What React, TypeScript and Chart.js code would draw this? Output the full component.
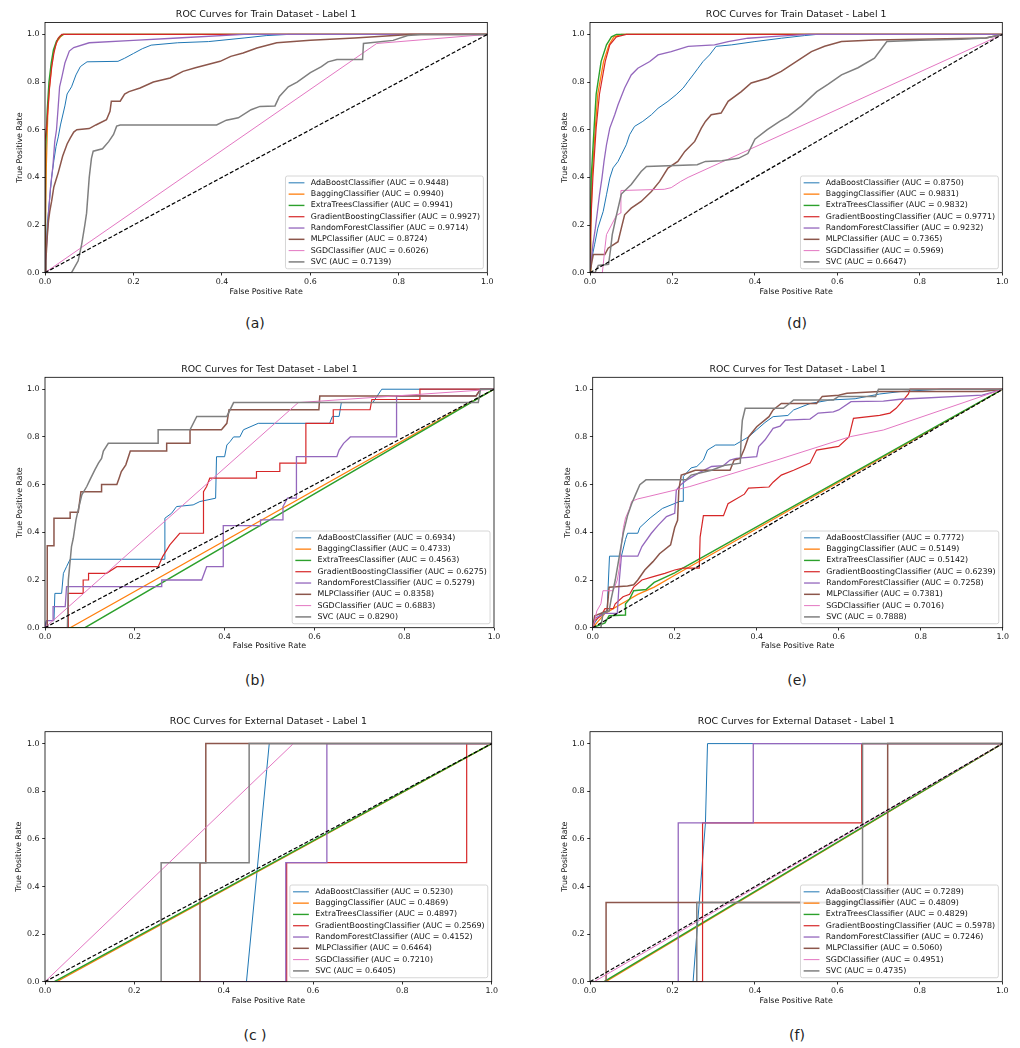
import React, { useEffect, useRef } from "react";
import { Chart, registerables } from "chart.js";

Chart.register(...registerables);

type Pt = [number, number];

const FONT = '"DejaVu Sans", sans-serif';
Chart.defaults.font.family = FONT;

// ---------- shared data ----------
const classifiers = [
  "AdaBoostClassifier",
  "BaggingClassifier",
  "ExtraTreesClassifier",
  "GradientBoostingClassifier",
  "RandomForestClassifier",
  "MLPClassifier",
  "SGDClassifier",
  "SVC",
];
const tickValues = [0, 0.2, 0.4, 0.6, 0.8, 1.0];
const diagonal: Pt[] = [[0, 0], [1, 1]];
const titles = [
  "ROC Curves for Train Dataset - Label 1",
  "ROC Curves for Test Dataset - Label 1",
  "ROC Curves for External Dataset - Label 1",
];
const subLabels = ["(a)", "(b)", "(c )", "(d)", "(e)", "(f)"];

// ---------- (a) Train, left ----------
const aucA = [0.9448, 0.994, 0.9941, 0.9927, 0.9714, 0.8724, 0.6026, 0.7139];
const rocA: Pt[][] = [
  [[0,0],[0.002,0.05],[0.005,0.2],[0.01,0.3],[0.015,0.4],[0.02,0.47],[0.025,0.53],[0.03,0.57],[0.035,0.62],[0.045,0.7],[0.05,0.75],[0.06,0.78],[0.07,0.83],[0.08,0.865],[0.095,0.885],[0.165,0.887],[0.18,0.9],[0.2,0.92],[0.22,0.94],[0.24,0.955],[0.3,0.965],[0.37,0.97],[0.45,0.985],[0.5,0.995],[0.55,1],[1,1]],
  [[0,0],[0.001,0.2],[0.003,0.45],[0.006,0.65],[0.01,0.78],[0.015,0.87],[0.02,0.93],[0.027,0.97],[0.035,0.99],[0.042,1],[1,1]],
  [[0,0],[0,0.3],[0.002,0.5],[0.005,0.68],[0.009,0.8],[0.014,0.88],[0.019,0.935],[0.026,0.972],[0.034,0.992],[0.041,1],[1,1]],
  [[0,0],[0,0.55],[0.004,0.62],[0.007,0.7],[0.01,0.77],[0.015,0.86],[0.02,0.92],[0.025,0.96],[0.03,0.985],[0.038,1],[1,1]],
  [[0,0],[0.003,0.1],[0.008,0.25],[0.012,0.35],[0.018,0.45],[0.022,0.55],[0.026,0.6],[0.03,0.7],[0.033,0.78],[0.038,0.82],[0.045,0.88],[0.055,0.93],[0.065,0.945],[0.1,0.965],[0.2,0.975],[0.3,0.985],[0.45,1],[1,1]],
  [[0,0],[0.002,0.05],[0.005,0.15],[0.008,0.22],[0.011,0.26],[0.015,0.3],[0.02,0.36],[0.025,0.39],[0.03,0.42],[0.04,0.49],[0.05,0.54],[0.057,0.565],[0.065,0.59],[0.072,0.6],[0.1,0.605],[0.115,0.62],[0.139,0.642],[0.147,0.677],[0.15,0.72],[0.17,0.72],[0.18,0.75],[0.19,0.76],[0.215,0.775],[0.245,0.8],[0.283,0.817],[0.312,0.845],[0.34,0.86],[0.396,0.887],[0.42,0.908],[0.448,0.922],[0.479,0.943],[0.524,0.965],[0.6,0.975],[0.7,0.985],[0.825,1],[1,1]],
  [[0,0],[0.75,0.962],[1,1]],
  [[0,0],[0.06,0],[0.075,0.05],[0.083,0.12],[0.09,0.2],[0.094,0.25],[0.1,0.4],[0.105,0.48],[0.109,0.51],[0.13,0.52],[0.144,0.55],[0.155,0.58],[0.162,0.615],[0.17,0.62],[0.388,0.62],[0.41,0.64],[0.437,0.65],[0.466,0.684],[0.486,0.698],[0.52,0.7],[0.53,0.74],[0.55,0.78],[0.57,0.8],[0.6,0.84],[0.625,0.865],[0.64,0.885],[0.66,0.895],[0.718,0.895],[0.72,0.962],[0.787,0.975],[0.82,0.995],[0.85,1],[1,1]],
];

// ---------- (d) Train, right ----------
const aucD = [0.875, 0.9831, 0.9832, 0.9771, 0.9232, 0.7365, 0.5969, 0.6647];
const rocD: Pt[][] = [
  [[0,0],[0.003,0.048],[0.011,0.117],[0.019,0.187],[0.032,0.257],[0.04,0.327],[0.048,0.397],[0.056,0.44],[0.068,0.467],[0.076,0.495],[0.088,0.537],[0.096,0.579],[0.108,0.614],[0.128,0.635],[0.149,0.663],[0.165,0.69],[0.189,0.719],[0.209,0.747],[0.226,0.775],[0.238,0.803],[0.25,0.83],[0.262,0.858],[0.274,0.886],[0.29,0.914],[0.306,0.95],[0.343,0.956],[0.4,0.97],[0.464,0.984],[0.52,0.995],[0.55,1],[1,1]],
  [[0,0],[0.002,0.2],[0.005,0.4],[0.013,0.61],[0.019,0.75],[0.033,0.887],[0.046,0.956],[0.058,0.99],[0.076,1],[1,1]],
  [[0,0],[0.001,0.2],[0.003,0.4],[0.01,0.61],[0.015,0.75],[0.027,0.887],[0.04,0.956],[0.052,0.99],[0.064,1],[1,1]],
  [[0,0],[0,0.1],[0.003,0.25],[0.007,0.4],[0.015,0.61],[0.023,0.75],[0.037,0.887],[0.048,0.956],[0.064,0.99],[0.088,1],[1,1]],
  [[0,0],[0.003,0.048],[0.007,0.117],[0.013,0.187],[0.018,0.257],[0.023,0.327],[0.029,0.397],[0.034,0.467],[0.04,0.537],[0.048,0.607],[0.06,0.663],[0.068,0.705],[0.084,0.775],[0.1,0.83],[0.116,0.858],[0.145,0.886],[0.165,0.914],[0.197,0.928],[0.238,0.95],[0.302,0.956],[0.335,0.97],[0.383,0.984],[0.44,0.991],[0.53,1],[1,1]],
  [[0,0],[0.005,0.05],[0.008,0.076],[0.036,0.076],[0.044,0.103],[0.068,0.13],[0.076,0.187],[0.084,0.243],[0.1,0.271],[0.124,0.299],[0.149,0.341],[0.169,0.383],[0.189,0.439],[0.213,0.467],[0.23,0.509],[0.254,0.551],[0.27,0.607],[0.28,0.635],[0.294,0.663],[0.318,0.67],[0.335,0.719],[0.367,0.76],[0.391,0.796],[0.432,0.817],[0.464,0.845],[0.488,0.872],[0.513,0.9],[0.537,0.928],[0.569,0.95],[0.61,0.97],[0.69,0.977],[0.8,0.98],[0.96,0.985],[1,1]],
  [[0,0],[0.03,0],[0.036,0.1],[0.04,0.16],[0.052,0.2],[0.064,0.24],[0.074,0.25],[0.075,0.345],[0.18,0.35],[0.197,0.357],[0.22,0.383],[0.238,0.4],[1,1]],
  [[0,0],[0.012,0],[0.02,0.03],[0.045,0.035],[0.05,0.1],[0.054,0.16],[0.064,0.24],[0.076,0.33],[0.1,0.37],[0.124,0.425],[0.137,0.446],[0.26,0.453],[0.28,0.467],[0.32,0.47],[0.36,0.48],[0.383,0.5],[0.4,0.56],[0.43,0.6],[0.46,0.635],[0.48,0.655],[0.513,0.7],[0.55,0.76],[0.577,0.79],[0.61,0.83],[0.65,0.86],[0.69,0.9],[0.72,0.97],[0.8,0.975],[0.9,0.98],[0.96,0.985],[1,1]],
];

// ---------- (b) Test, left ----------
const aucB = [0.6934, 0.4733, 0.4563, 0.6275, 0.5279, 0.8358, 0.6883, 0.829];
const rocB: Pt[][] = [
  [[0,0],[0.003,0.03],[0.02,0.03],[0.022,0.144],[0.037,0.144],[0.041,0.228],[0.048,0.256],[0.056,0.287],[0.267,0.287],[0.267,0.459],[0.282,0.48],[0.293,0.508],[0.33,0.515],[0.345,0.529],[0.38,0.543],[0.382,0.717],[0.4,0.717],[0.405,0.766],[0.412,0.78],[0.42,0.8],[0.434,0.8],[0.442,0.83],[0.475,0.857],[0.634,0.857],[0.64,0.886],[0.655,0.886],[0.66,0.944],[0.73,0.944],[0.75,1],[1,1]],
  [[0,0],[0.056,0],[1,1]],
  [[0,0],[0.089,0],[1,1]],
  [[0,0],[0.052,0],[0.052,0.144],[0.085,0.144],[0.085,0.2],[0.097,0.2],[0.097,0.228],[0.137,0.228],[0.16,0.256],[0.252,0.256],[0.262,0.298],[0.278,0.347],[0.3,0.396],[0.353,0.396],[0.353,0.57],[0.36,0.592],[0.367,0.627],[0.471,0.627],[0.471,0.655],[0.523,0.655],[0.523,0.69],[0.581,0.69],[0.581,0.857],[0.642,0.857],[0.642,0.914],[0.724,0.914],[0.728,0.957],[0.835,0.957],[0.835,1],[1,1]],
  [[0,0],[0.004,0.03],[0.018,0.03],[0.018,0.088],[0.045,0.088],[0.048,0.172],[0.26,0.172],[0.26,0.2],[0.349,0.2],[0.36,0.256],[0.397,0.256],[0.397,0.428],[0.479,0.428],[0.48,0.452],[0.53,0.452],[0.53,0.508],[0.54,0.543],[0.56,0.543],[0.56,0.717],[0.65,0.717],[0.655,0.745],[0.665,0.773],[0.68,0.8],[0.783,0.8],[0.783,0.972],[0.96,0.972],[0.97,1],[1,1]],
  [[0,0],[0.005,0],[0.005,0.344],[0.02,0.344],[0.02,0.459],[0.056,0.459],[0.056,0.484],[0.074,0.484],[0.08,0.57],[0.126,0.57],[0.126,0.6],[0.16,0.6],[0.165,0.627],[0.17,0.655],[0.18,0.683],[0.19,0.741],[0.271,0.741],[0.271,0.773],[0.323,0.773],[0.323,0.83],[0.393,0.83],[0.405,0.857],[0.41,0.914],[0.61,0.914],[0.612,0.972],[0.96,0.972],[0.97,1],[1,1]],
  [[0,0],[0.564,0.944],[1,1]],
  [[0,0],[0.05,0],[0.052,0.2],[0.059,0.34],[0.063,0.375],[0.069,0.452],[0.074,0.494],[0.082,0.557],[0.093,0.592],[0.1,0.62],[0.111,0.662],[0.119,0.69],[0.126,0.71],[0.13,0.741],[0.141,0.773],[0.252,0.773],[0.252,0.83],[0.323,0.83],[0.338,0.886],[0.405,0.886],[0.42,0.944],[0.965,0.944],[0.97,1],[1,1]],
];

// ---------- (e) Test, right ----------
const aucE = [0.7772, 0.5149, 0.5142, 0.6239, 0.7258, 0.7381, 0.7016, 0.7888];
const rocE: Pt[][] = [
  [[0,0],[0.005,0.02],[0.02,0.06],[0.035,0.07],[0.041,0.3],[0.07,0.3],[0.08,0.37],[0.085,0.396],[0.11,0.396],[0.115,0.42],[0.14,0.46],[0.17,0.5],[0.213,0.53],[0.221,0.53],[0.221,0.634],[0.24,0.67],[0.254,0.676],[0.27,0.703],[0.28,0.745],[0.3,0.766],[0.346,0.766],[0.36,0.78],[0.38,0.8],[0.4,0.83],[0.42,0.86],[0.44,0.885],[0.476,0.89],[0.49,0.913],[0.53,0.94],[0.58,0.955],[0.64,0.96],[0.7,0.98],[0.75,0.99],[0.85,1],[1,1]],
  [[0,0],[0.01,0.02],[0.03,0.06],[0.05,0.08],[0.08,0.11],[0.11,0.14],[0.15,0.17],[0.2,0.22],[1,1]],
  [[0,0],[0.03,0.02],[0.04,0.05],[0.08,0.053],[0.08,0.1],[0.09,0.12],[0.1,0.155],[0.13,0.16],[0.15,0.19],[0.2,0.23],[0.22,0.25],[1,1]],
  [[0,0],[0.005,0.03],[0.02,0.05],[0.03,0.08],[0.05,0.08],[0.055,0.1],[0.074,0.13],[0.09,0.14],[0.1,0.17],[0.12,0.2],[0.15,0.215],[0.176,0.228],[0.2,0.242],[0.22,0.25],[0.26,0.25],[0.262,0.38],[0.27,0.47],[0.319,0.47],[0.33,0.52],[0.37,0.56],[0.38,0.585],[0.43,0.59],[0.44,0.61],[0.46,0.64],[0.49,0.66],[0.53,0.69],[0.546,0.745],[0.6,0.76],[0.625,0.8],[0.636,0.878],[0.7,0.89],[0.725,0.9],[0.74,0.92],[0.758,0.955],[0.77,0.98],[0.774,1],[1,1]],
  [[0,0],[0.005,0.04],[0.03,0.06],[0.06,0.06],[0.065,0.2],[0.07,0.3],[0.11,0.3],[0.12,0.34],[0.143,0.396],[0.16,0.43],[0.18,0.466],[0.2,0.48],[0.204,0.577],[0.215,0.6],[0.23,0.62],[0.26,0.65],[0.29,0.676],[0.319,0.68],[0.335,0.703],[0.35,0.71],[0.4,0.717],[0.405,0.76],[0.42,0.787],[0.44,0.836],[0.457,0.845],[0.47,0.87],[0.53,0.875],[0.55,0.9],[0.587,0.905],[0.6,0.913],[0.63,0.948],[0.709,0.95],[0.75,0.958],[0.95,0.975],[0.97,0.985],[1,1]],
  [[0,0],[0.005,0.05],[0.035,0.07],[0.04,0.17],[0.085,0.175],[0.1,0.18],[0.11,0.2],[0.127,0.242],[0.147,0.277],[0.163,0.31],[0.19,0.347],[0.2,0.42],[0.207,0.45],[0.21,0.577],[0.216,0.64],[0.23,0.648],[0.25,0.66],[0.335,0.66],[0.345,0.703],[0.36,0.71],[0.37,0.75],[0.38,0.8],[0.4,0.843],[0.43,0.885],[0.44,0.913],[0.46,0.94],[0.546,0.94],[0.56,0.97],[0.6,0.975],[0.62,0.983],[0.7,0.99],[0.95,0.99],[1,1]],
  [[0,0],[0.005,0.03],[0.01,0.07],[0.02,0.1],[0.025,0.155],[0.05,0.155],[0.06,0.2],[0.065,0.25],[0.07,0.35],[0.075,0.42],[0.08,0.46],[0.09,0.5],[0.095,0.53],[0.11,0.54],[0.135,0.55],[0.237,0.592],[0.449,0.703],[0.628,0.801],[0.709,0.829],[1,1]],
  [[0,0],[0.02,0],[0.025,0.06],[0.04,0.07],[0.045,0.12],[0.055,0.2],[0.065,0.3],[0.075,0.4],[0.085,0.47],[0.095,0.52],[0.105,0.56],[0.115,0.6],[0.13,0.62],[0.228,0.62],[0.24,0.64],[0.29,0.66],[0.32,0.68],[0.36,0.69],[0.362,0.8],[0.365,0.87],[0.372,0.92],[0.465,0.92],[0.48,0.94],[0.49,0.955],[0.587,0.955],[0.6,0.97],[0.69,0.97],[0.697,1],[1,1]],
];

// ---------- (c) External, left ----------
const aucC = [0.523, 0.4869, 0.4897, 0.2569, 0.4152, 0.6464, 0.721, 0.6405];
const rocC: Pt[][] = [
  [[0,0],[0.451,0],[0.502,1],[1,1]],
  [[0,0],[0.026,0],[1,1]],
  [[0,0],[0.021,0],[1,1]],
  [[0,0],[0.541,0],[0.541,0.5],[0.944,0.5],[0.944,1],[1,1]],
  [[0,0],[0.539,0],[0.539,0.5],[0.631,0.5],[0.631,1],[1,1]],
  [[0,0],[0.347,0],[0.347,0.5],[0.36,0.5],[0.36,1],[1,1]],
  [[0,0],[0.556,1],[1,1]],
  [[0,0],[0.26,0],[0.26,0.5],[0.457,0.5],[0.457,1],[1,1]],
];

// ---------- (f) External, right ----------
const aucF = [0.7289, 0.4809, 0.4829, 0.5978, 0.7246, 0.506, 0.4951, 0.4735];
const rocF: Pt[][] = [
  [[0,0],[0.25,0],[0.28,0.667],[0.285,1],[1,1]],
  [[0,0],[0.038,0],[1,1]],
  [[0,0],[0.034,0],[1,1]],
  [[0,0],[0.273,0],[0.273,0.667],[0.659,0.667],[0.659,1],[1,1]],
  [[0,0],[0.214,0],[0.214,0.667],[0.396,0.667],[0.396,1],[1,1]],
  [[0,0],[0.039,0],[0.039,0.333],[0.722,0.333],[0.722,1],[1,1]],
  [[0,0],[0.01,0],[1,1]],
  [[0,0],[0.259,0],[0.259,0.333],[0.661,0.333],[0.661,1],[1,1]],
];

// ---------- styling ----------
const colors = ["#1f77b4", "#ff7f0e", "#2ca02c", "#d62728", "#9467bd", "#8c564b", "#e377c2", "#7f7f7f"];
const widths = [1.0, 1.3, 1.4, 1.2, 1.3, 1.5, 1.0, 1.5];
const FS = 7.9;
const TFS = 9.4;
const LH = FS * 1.2;
const TLH = TFS * 1.2;
const HX = 30;

type Geom = {
  cl: number; ct: number; cw: number; ch: number;
  pl: number; pr: number; pt: number; pb: number;
  ty: number; xly: number; ylx: number;
};

const frameLegendPlugin = {
  id: "frameLegend",
  afterDatasetsDraw(chart: any) {
    const { ctx, chartArea: a } = chart;
    ctx.save();
    ctx.setLineDash([]);
    ctx.strokeStyle = "#000";
    ctx.lineWidth = 0.8;
    ctx.strokeRect(a.left, a.top, a.right - a.left, a.bottom - a.top);

    const items = chart.data.datasets.filter((d: any) => d.label);
    ctx.font = `${FS}px ${FONT}`;
    const pad = 0.4 * FS, hl = 2 * FS, hp = 0.8 * FS, sp = 0.5 * FS, rowH = 0.93 * FS, ax = 0.5 * FS;
    const maxW = Math.max(...items.map((d: any) => ctx.measureText(d.label).width));
    const w = 2 * pad + hl + hp + maxW;
    const h = 2 * pad + items.length * rowH + (items.length - 1) * sp;
    const x0 = a.right - ax - w;
    const y0 = a.bottom - ax - h;
    ctx.beginPath();
    if (ctx.roundRect) ctx.roundRect(x0, y0, w, h, 2);
    else ctx.rect(x0, y0, w, h);
    ctx.fillStyle = "rgba(255,255,255,0.8)";
    ctx.fill();
    ctx.strokeStyle = "#cccccc";
    ctx.lineWidth = 0.8;
    ctx.stroke();
    items.forEach((d: any, i: number) => {
      const cy = y0 + pad + rowH / 2 + i * (rowH + sp);
      ctx.beginPath();
      ctx.moveTo(x0 + pad, cy);
      ctx.lineTo(x0 + pad + hl, cy);
      ctx.strokeStyle = d.borderColor;
      ctx.lineWidth = d.borderWidth;
      ctx.stroke();
      ctx.fillStyle = "#111";
      ctx.textBaseline = "middle";
      ctx.textAlign = "left";
      ctx.fillText(d.label, x0 + pad + hl + hp, cy);
    });
    ctx.restore();
  },
};

function RocPanel({ g, title, curves, aucs }: { g: Geom; title: string; curves: Pt[][]; aucs: number[] }) {
  const ref = useRef<HTMLCanvasElement>(null);
  useEffect(() => {
    const canvas = ref.current;
    if (!canvas) return;
    const datasets: any[] = curves.map((c, i) => ({
      label: `${classifiers[i]} (AUC = ${aucs[i].toFixed(4)})`,
      data: c.map(([x, y]) => ({ x, y })),
      borderColor: colors[i],
      backgroundColor: colors[i],
      borderWidth: widths[i],
      pointRadius: 0,
      tension: 0,
      fill: false,
      clip: 0,
      order: 20 - i,
    }));
    datasets.push({
      label: "",
      data: diagonal.map(([x, y]) => ({ x, y })),
      borderColor: "#000",
      borderWidth: 1.2,
      borderDash: [4, 2],
      pointRadius: 0,
      fill: false,
      clip: 0,
      order: 0,
    });
    const tickFont = { family: FONT, size: FS };
    const chart = new Chart(canvas, {
      type: "line",
      data: { datasets },
      plugins: [frameLegendPlugin],
      options: {
        animation: false,
        responsive: false,
        devicePixelRatio: 1,
        events: [],
        layout: {
          padding: { left: 0, top: 0, right: g.cl + g.cw - g.pr, bottom: g.ct + g.ch - g.pb - HX },
        },
        plugins: {
          legend: { display: false },
          tooltip: { enabled: false },
          title: {
            display: true,
            text: title,
            fullSize: false,
            color: "#111",
            font: { family: FONT, size: TFS, weight: "normal" },
            padding: { top: g.ty - g.ct - TLH / 2, bottom: g.pt - g.ty - TLH / 2 },
          },
        },
        scales: {
          x: {
            type: "linear",
            min: 0,
            max: 1,
            grid: { drawOnChartArea: false, drawTicks: true, tickLength: 2.8, color: "#000", lineWidth: 0.8 },
            border: { display: false },
            ticks: {
              font: tickFont,
              color: "#111",
              padding: 1.5,
              autoSkip: false,
              maxRotation: 0,
              minRotation: 0,
              callback: (v: any) => Number(v).toFixed(1),
            },
            title: {
              display: true,
              text: "False Positive Rate",
              color: "#111",
              font: { family: FONT, size: FS },
              padding: { top: 0, bottom: g.pb + HX - g.xly - LH / 2 },
            },
            afterBuildTicks: (s: any) => {
              s.ticks = tickValues.map((v) => ({ value: v }));
            },
            afterFit: (s: any) => {
              s.height = HX;
            },
          },
          y: {
            type: "linear",
            min: 0,
            max: 1.05,
            grid: { drawOnChartArea: false, drawTicks: true, tickLength: 2.8, color: "#000", lineWidth: 0.8 },
            border: { display: false },
            ticks: {
              font: tickFont,
              color: "#111",
              padding: 2.6,
              autoSkip: false,
              callback: (v: any) => Number(v).toFixed(1),
            },
            title: {
              display: true,
              text: "True Positive Rate",
              color: "#111",
              font: { family: FONT, size: FS },
              padding: { top: g.ylx - g.cl - LH / 2, bottom: 0 },
            },
            afterBuildTicks: (s: any) => {
              s.ticks = tickValues.map((v) => ({ value: v }));
            },
            afterFit: (s: any) => {
              s.width = g.pl - g.cl;
            },
          },
        },
      } as any,
    });
    return () => chart.destroy();
  }, []);
  return (
    <canvas
      ref={ref}
      width={g.cw}
      height={g.ch}
      style={{ position: "absolute", left: g.cl, top: g.ct, width: g.cw, height: g.ch }}
    />
  );
}

const geoms: Geom[] = [
  { cl: 0, ct: 0, cw: 505, ch: 305, pl: 45, pr: 487.3, pt: 22.5, pb: 272.7, ty: 15, xly: 292, ylx: 20 },
  { cl: 0, ct: 350, cw: 505, ch: 310, pl: 45, pr: 494, pt: 377.3, pb: 627.7, ty: 370, xly: 646, ylx: 19.5 },
  { cl: 0, ct: 705, cw: 505, ch: 310, pl: 45, pr: 491.7, pt: 731.7, pb: 981.7, ty: 722, xly: 1000.7, ylx: 19 },
  { cl: 548, ct: 0, cw: 472, ch: 305, pl: 590, pr: 1002.3, pt: 22.5, pb: 272.7, ty: 15, xly: 292, ylx: 565 },
  { cl: 548, ct: 350, cw: 472, ch: 310, pl: 592.7, pr: 1002.7, pt: 377.3, pb: 627.7, ty: 370, xly: 646, ylx: 568 },
  { cl: 548, ct: 705, cw: 472, ch: 310, pl: 590, pr: 1002.3, pt: 731.7, pb: 981.7, ty: 722, xly: 1000.7, ylx: 565 },
];
const subPos = [
  [255, 323], [255, 680], [255, 1035], [797, 323], [797, 680], [797, 1035],
];

const panels = [
  { curves: rocA, aucs: aucA, title: titles[0] },
  { curves: rocB, aucs: aucB, title: titles[1] },
  { curves: rocC, aucs: aucC, title: titles[2] },
  { curves: rocD, aucs: aucD, title: titles[0] },
  { curves: rocE, aucs: aucE, title: titles[1] },
  { curves: rocF, aucs: aucF, title: titles[2] },
];

export default function App() {
  return (
    <div style={{ position: "absolute", left: 0, top: 0, width: 1020, height: 1048, background: "#fff", overflow: "hidden" }}>
      {panels.map((p, i) => (
        <RocPanel key={i} g={geoms[i]} title={p.title} curves={p.curves} aucs={p.aucs} />
      ))}
      {subLabels.map((s, i) => (
        <div
          key={s}
          style={{
            position: "absolute",
            left: subPos[i][0],
            top: subPos[i][1],
            transform: "translate(-50%, -50%)",
            fontFamily: FONT,
            fontSize: 14,
            color: "#222",
            whiteSpace: "pre",
            lineHeight: 1,
          }}
        >
          {s}
        </div>
      ))}
    </div>
  );
}
